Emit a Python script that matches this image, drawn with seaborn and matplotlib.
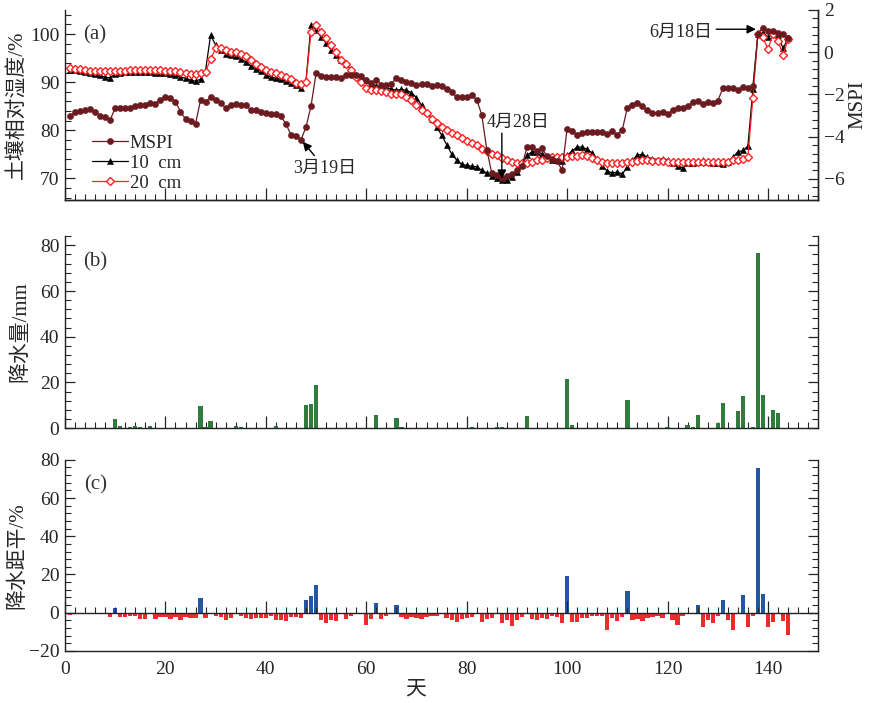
import matplotlib
matplotlib.use("Agg")
import numpy as np
import pandas as pd
import matplotlib.pyplot as plt
from matplotlib.ticker import MultipleLocator, AutoMinorLocator
import seaborn as sns

# ---------------------------------------------------------------- data
days = list(range(1, 145))

mspi = [
    -3.04, -2.84, -2.78, -2.76, -2.70, -2.84, -3.00, -3.07, -3.20, -2.64,
    -2.62, -2.62, -2.64, -2.53, -2.49, -2.51, -2.42, -2.45, -2.26, -2.10,
    -2.16, -2.34, -2.81, -3.16, -3.28, -3.39, -2.26, -2.34, -2.13, -2.24,
    -2.40, -2.64, -2.51, -2.46, -2.51, -2.51, -2.73, -2.76, -2.84, -2.89,
    -2.92, -2.92, -3.04, -3.40, -3.91, -3.99, -4.14, -3.55, -2.54, -1.00,
    -1.13, -1.16, -1.16, -1.16, -1.24, -1.10, -1.08, -1.10, -1.11, -1.32,
    -1.47, -1.32, -1.55, -1.57, -1.51, -1.21, -1.32, -1.41, -1.47, -1.57,
    -1.51, -1.51, -1.60, -1.57, -1.60, -1.74, -1.87, -2.13, -2.10, -2.10,
    -2.02, -2.26, -2.96, -4.61, -5.74, -5.83, -5.95, -5.87, -5.79, -5.59,
    -5.40, -4.50, -4.50, -4.69, -4.56, -4.93, -5.08, -5.16, -5.59, -3.62,
    -3.72, -3.91, -3.83, -3.80, -3.80, -3.80, -3.80, -3.87, -3.75, -3.91,
    -3.67, -2.62, -2.49, -2.42, -2.57, -2.76, -2.86, -2.89, -2.81, -2.93,
    -2.76, -2.62, -2.62, -2.54, -2.37, -2.29, -2.45, -2.34, -2.42, -2.31,
    -1.71, -1.71, -1.71, -1.79, -1.66, -1.68, -1.60, 0.88, 1.16, 1.00,
    1.00, 0.91, 0.88, 0.69,
]

sm10 = [
    92.6, 92.5, 92.3, 92.1, 91.9, 91.6, 91.4, 91.0, 90.9, 91.7,
    92.0, 92.1, 92.2, 92.2, 92.2, 92.2, 92.1, 92.0, 92.0, 91.8,
    91.6, 91.4, 91.1, 90.8, 90.4, 90.2, 90.6, 92.5, 99.8, 97.7,
    96.7, 95.8, 95.7, 95.4, 94.9, 94.2, 93.3, 92.8, 92.3, 91.5,
    91.1, 90.8, 90.6, 90.2, 89.9, 89.4, 88.8, 90.4, 101.9, 100.8,
    99.4, 98.1, 96.7, 95.6, 94.7, 93.7, 92.5, 91.5, 91.0, 90.4,
    89.7, 89.2, 88.8, 88.7, 88.6, 88.3, 88.5, 88.3, 87.8, 86.8,
    85.2, 83.8, 82.4, 80.7, 79.0, 77.0, 75.1, 73.8, 72.9, 72.7,
    72.5, 72.4, 71.7, 71.1, 70.5, 70.1, 69.7, 69.6, 70.3, 71.3,
    72.7, 74.8, 75.5, 75.5, 75.1, 74.4, 73.9, 73.8, 73.6, 74.8,
    75.7, 76.5, 76.5, 76.0, 75.3, 74.0, 72.6, 71.5, 71.1, 71.3,
    70.9, 72.4, 73.8, 74.8, 75.0, 74.4, 74.1, 73.9, 74.1, 73.9,
    73.1, 72.6, 72.2, 73.1, 73.1, 73.4, 73.8, 73.4, 73.1, 73.1,
    72.9, 73.4, 74.4, 75.5, 75.8, 76.7, 88.5, 100.0, 100.2, 99.4,
    100.3, 99.8, 97.0, 99.1,
]

sm20 = [
    93.0, 92.8, 92.7, 92.5, 92.4, 92.3, 92.3, 92.3, 92.3, 92.4,
    92.4, 92.4, 92.5, 92.6, 92.6, 92.6, 92.5, 92.5, 92.5, 92.4,
    92.4, 92.4, 92.2, 91.8, 91.6, 91.6, 91.8, 92.2, 94.8, 97.0,
    97.2, 96.7, 96.3, 96.2, 95.8, 95.4, 94.7, 93.8, 93.2, 92.5,
    92.2, 91.8, 91.5, 91.1, 90.6, 89.9, 89.6, 90.1, 100.5, 101.9,
    100.5, 99.1, 97.7, 96.3, 94.7, 93.7, 92.5, 91.1, 90.1, 88.7,
    88.3, 88.3, 88.2, 88.0, 87.6, 87.5, 87.5, 86.9, 86.3, 85.2,
    84.3, 83.5, 82.4, 81.5, 80.6, 80.0, 79.5, 79.0, 78.3, 77.8,
    77.4, 76.9, 76.2, 75.6, 75.1, 74.8, 74.2, 73.8, 73.4, 73.2,
    73.1, 73.2, 73.4, 73.8, 73.9, 74.3, 74.4, 74.4, 74.4, 74.4,
    74.6, 74.6, 74.8, 74.6, 74.3, 73.9, 73.4, 73.2, 73.2, 73.2,
    73.2, 73.4, 73.4, 73.6, 73.8, 73.8, 73.6, 73.6, 73.6, 73.4,
    73.4, 73.4, 73.3, 73.3, 73.4, 73.4, 73.4, 73.4, 73.4, 73.4,
    73.4, 73.4, 73.8, 73.9, 74.1, 74.4, 86.8, 100.0, 99.3, 96.8,
    100.0, 98.6, 95.6, 98.9,
]

rain_day = [9, 10, 11, 13, 14, 15, 16, 17, 27, 28, 29, 30, 34, 35, 42, 43,
            47, 48, 49, 50, 61, 62, 65, 66, 67, 80, 81, 86, 87, 90, 92, 99,
            100, 101, 107, 112, 113, 116, 120, 121, 124, 125, 126, 127, 130,
            131, 132, 134, 135, 137, 138, 139, 141, 142, 143, 144]
rain_mm = [0.2, 3.8, 0.9, 0.5, 0.9, 0.5, 0.2, 0.9, 9.6, 0.5, 3.1, 0.2, 0.9,
           0.3, 0.9, 0.2, 0.2, 10.1, 10.6, 19.0, 0.2, 5.7, 0.2, 4.5, 0.3,
           0.2, 0.4, 0.3, 0.3, 0.2, 5.3, 0.2, 21.5, 1.2, 0.2, 12.3, 0.2, 0.2,
           0.4, 0.2, 1.2, 0.6, 5.7, 0.2, 2.3, 11.0, 0.2, 7.5, 14.0, 0.4,
           76.5, 14.6, 7.8, 6.5, 0.2, 0.2]

anomaly = [
    -1.4, 0, 0, 0, 0, 0, 0, 0, -2.3, 2.4,
    -2.4, -2.4, -1.9, -1.9, -3.1, -3.1, 0, -3.1, -2.4, -2.3,
    -3.3, -2.3, -3.7, -2.3, -2.8, -2.8, 7.7, -2.8, 0, -1.9,
    -2.3, -4.0, -2.8, 0, -1.9, -2.8, -3.3, -2.8, -2.8, -2.8,
    -1.9, -3.7, -3.7, -4.2, -2.3, -2.3, -2.8, 6.8, 8.5, 14.7,
    -4.0, -5.4, -3.7, -4.5, 0, -3.1, -1.9, 0, 0, -6.6,
    -3.1, 5.1, -3.3, -1.6, 0, 3.8, -2.3, -3.1, -2.4, -3.0,
    -3.3, -2.3, -1.9, -1.6, 0, -3.0, -3.7, -5.1, -3.3, -3.0,
    -2.3, 0, -5.1, -3.3, -2.8, 0, -5.4, -3.7, -6.8, -4.0,
    -2.4, 0, -3.3, -3.7, -2.8, -3.3, -1.9, -2.3, -5.4, 19.4,
    -5.1, -5.1, -2.8, -2.8, -1.9, -1.9, -1.9, -8.9, -2.8, -4.5,
    -2.4, 11.2, -3.7, -3.3, -4.5, -2.8, -2.4, -1.9, -2.8, 0,
    -3.7, -6.3, -1.6, 0, 0, 3.8, -7.2, -3.7, -5.4, -1.9,
    6.6, -3.7, -9.2, 0, 9.4, -7.5, -1.9, 75.7, 9.8, -7.2,
    -5.1, 0, -4.5, -11.5,
]

# ---------------------------------------------------------------- style
sns.set_theme(style="ticks")
plt.rcParams["font.family"] = ["Liberation Serif", "Noto Sans CJK SC"]
plt.rcParams["axes.unicode_minus"] = True
plt.rcParams["axes.edgecolor"] = "#222222"
plt.rcParams["axes.linewidth"] = 1.0

C_MSPI = "#6b1a20"
C_10 = "black"
C_20 = "#ff2222"
C_RAIN = "#2e7d3e"
C_POS = "#2456a6"
C_NEG = "#ee2b2b"
TICK_FS = 14
LABEL_FS = 15

fig = plt.figure(figsize=(8.76, 7.03), dpi=100)
L, R = 0.0742, 0.934
axa = fig.add_axes([L, 0.7155, R - L, 0.2703])
axb = fig.add_axes([L, 0.391, R - L, 0.273])
axc = fig.add_axes([L, 0.074, R - L, 0.272])


def style_axis(ax, right_ticks=True):
    ax.set_xlim(0, 150)
    ax.xaxis.set_major_locator(MultipleLocator(20))
    ax.xaxis.set_minor_locator(MultipleLocator(2))
    ax.yaxis.set_minor_locator(AutoMinorLocator(5))
    ax.spines["top"].set_visible(False)
    ax.tick_params(axis="x", which="major", direction="in", length=8.5,
                   width=0.9, labelbottom=False)
    ax.tick_params(axis="x", which="minor", direction="in", length=4.2,
                   width=0.8)
    ax.tick_params(axis="y", which="major", direction="in", length=7,
                   width=0.9, labelsize=TICK_FS, pad=4, right=right_ticks)
    ax.tick_params(axis="y", which="minor", direction="in", length=4,
                   width=0.8, right=right_ticks)
    ax.grid(False)


# ---------------------------------------------------------------- (a) soil moisture and MSPI
df_a = pd.DataFrame({"day": days, "sm10": sm10, "sm20": sm20, "mspi": mspi})

sns.lineplot(data=df_a, x="day", y="sm10", ax=axa, color=C_10, lw=0.9,
             marker="^", markersize=5, markerfacecolor=C_10,
             markeredgecolor=C_10, markeredgewidth=0.4, legend=False)
sns.lineplot(data=df_a, x="day", y="sm20", ax=axa, color=C_20, lw=0.9,
             marker="D", markersize=3.6, markerfacecolor="white",
             markeredgecolor=C_20, markeredgewidth=1.0, legend=False)
style_axis(axa, right_ticks=False)
axa.set_ylim(65.5, 105)
axa.yaxis.set_major_locator(MultipleLocator(10))
axa.set_xlabel("")
axa.set_ylabel("土壤相对湿度/%", fontsize=LABEL_FS)
axa.yaxis.set_label_coords(-0.050, 0.5)

axm = axa.twinx()
sns.lineplot(data=df_a, x="day", y="mspi", ax=axm, color=C_MSPI, lw=0.9,
             marker="o", markersize=4.4, markerfacecolor=C_MSPI,
             markeredgecolor=C_MSPI, markeredgewidth=0.4, legend=False)
axm.set_ylim(-7, 2)
axm.set_xlim(0, 150)
axm.yaxis.set_major_locator(MultipleLocator(2))
axm.yaxis.set_minor_locator(AutoMinorLocator(5))
axm.spines["top"].set_visible(False)
axm.spines["left"].set_visible(False)
axm.tick_params(axis="y", which="major", direction="in", length=7,
                width=0.9, labelsize=TICK_FS, pad=4)
axm.tick_params(axis="y", which="minor", direction="in", length=4, width=0.8)
axm.grid(False)
axm.set_xlabel("")
axm.set_ylabel("MSPI", fontsize=LABEL_FS)
axm.yaxis.set_label_coords(1.040, 0.5)

handles = [axm.lines[0], axa.lines[0], axa.lines[1]]
axm.legend(handles, ["MSPI", "10  cm", "20  cm"], loc="upper left",
           bbox_to_anchor=(0.036, 0.345), frameon=False, fontsize=13.5,
           handlelength=1.9, handletextpad=0.1, labelspacing=0.16,
           borderpad=0, borderaxespad=0, numpoints=1)

axa.text(0.04, 0.87, "(a)", transform=axa.transAxes, fontsize=15,
         ha="center", va="center", color="#333333")

arrow_kw = dict(arrowstyle="-|>", color="black", lw=1.0, mutation_scale=13)
i_mar19 = days.index(47)
axm.annotate("3月19日", xy=(days[i_mar19], mspi[i_mar19]),
             xytext=(51.8, -5.5), fontsize=13, ha="center", va="center",
             arrowprops=dict(shrinkA=1, shrinkB=2, **arrow_kw))
i_apr28 = days.index(87)
axm.annotate("", xy=(days[i_apr28], sm10[i_apr28] + 0.2),
             xytext=(days[i_apr28], 79.4), xycoords=axa.transData,
             textcoords=axa.transData,
             arrowprops=dict(shrinkA=0, shrinkB=0, **arrow_kw))
axm.text(90.3, 81.7, "4月28日", transform=axa.transData, fontsize=13,
         ha="center", va="center")
i_jun18 = days.index(138)
axm.annotate("", xy=(days[i_jun18] - 0.4, 101.0), xytext=(129.7, 101.0),
             xycoords=axa.transData, textcoords=axa.transData,
             arrowprops=dict(shrinkA=0, shrinkB=0, **arrow_kw))
axm.text(122.7, 100.4, "6月18日", transform=axa.transData, fontsize=13,
         ha="center", va="center")

# ---------------------------------------------------------------- (b) precipitation
df_b = pd.DataFrame({"day": rain_day, "mm": rain_mm})
sns.barplot(data=df_b, x="day", y="mm", ax=axb, native_scale=True,
            color=C_RAIN, width=0.85, linewidth=0, errorbar=None,
            saturation=1)
style_axis(axb)
axb.set_ylim(0, 84)
axb.yaxis.set_major_locator(MultipleLocator(20))
axb.set_xlabel("")
axb.set_ylabel("降水量/mm", fontsize=LABEL_FS)
axb.yaxis.set_label_coords(-0.046, 0.5)
axb.text(0.04, 0.865, "(b)", transform=axb.transAxes, fontsize=15,
         ha="center", va="center", color="#333333")

# ---------------------------------------------------------------- (c) precipitation anomaly
df_c = pd.DataFrame({"day": days, "pct": anomaly})
df_c = df_c[df_c["pct"] != 0].copy()
df_c["sign"] = np.where(df_c["pct"] > 0, "pos", "neg")
sns.barplot(data=df_c, x="day", y="pct", hue="sign", ax=axc,
            native_scale=True, palette={"pos": C_POS, "neg": C_NEG},
            dodge=False, width=0.85, linewidth=0, errorbar=None,
            saturation=1, legend=False)
style_axis(axc)
axc.set_ylim(-20, 80)
axc.yaxis.set_major_locator(MultipleLocator(20))
axc.tick_params(axis="x", which="both", length=0, labelbottom=True,
                labelsize=TICK_FS, pad=7)
axc.set_xlabel("天", fontsize=LABEL_FS)
axc.xaxis.set_label_coords(0.465, -0.155)
axc.set_ylabel("降水距平/%", fontsize=LABEL_FS)
axc.yaxis.set_label_coords(-0.050, 0.5)
axc.text(0.04, 0.87, "(c)", transform=axc.transAxes, fontsize=15,
         ha="center", va="center", color="#333333")

zero_axis = axc.secondary_xaxis(0, transform=axc.transData)
zero_axis.set_zorder(3)
zero_axis.xaxis.set_major_locator(MultipleLocator(20))
zero_axis.xaxis.set_minor_locator(MultipleLocator(2))
zero_axis.tick_params(which="major", direction="in", length=8.5, width=0.9,
                      labelbottom=False)
zero_axis.tick_params(which="minor", direction="in", length=4.2, width=0.8)
zero_axis.spines["bottom"].set_linewidth(1.0)
zero_axis.spines["bottom"].set_color("#222222")

fig.savefig("out.png", dpi=100, facecolor="white")
